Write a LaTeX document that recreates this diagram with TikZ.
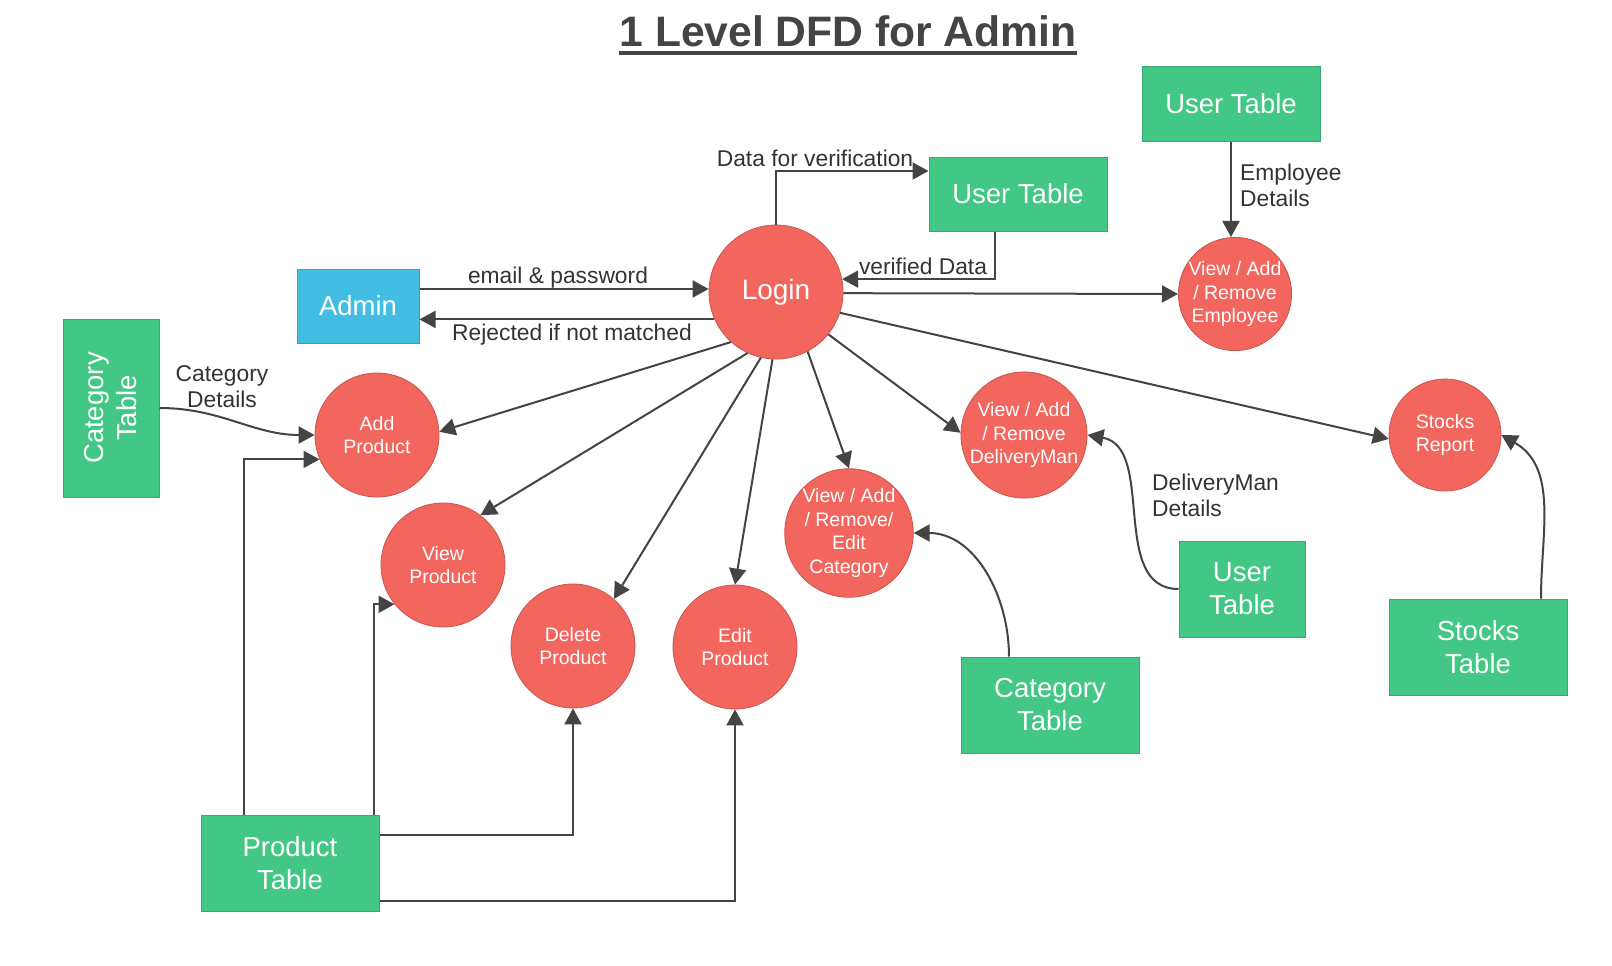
\documentclass[tikz,border=0pt]{standalone}
\usepackage{fontspec}
\setmainfont{Liberation Sans}
\usepackage{xcolor}
\definecolor{ink}{HTML}{333333}
\definecolor{titlegray}{HTML}{444444}
\definecolor{wire}{HTML}{444444}
\definecolor{procred}{HTML}{F2665E}
\definecolor{procedge}{HTML}{C8554E}
\definecolor{storegreen}{HTML}{42C884}
\definecolor{storeedge}{HTML}{38A96F}
\definecolor{adminblue}{HTML}{42BEE2}
\definecolor{adminedge}{HTML}{37A3C4}
\usepackage{tikz}
\usetikzlibrary{arrows.meta}

\begin{document}
\begin{tikzpicture}[
  x=1pt, y=1pt,
  proc/.style={circle, draw=procedge, line width=0.8pt, fill=procred, text=white, align=center,
               inner sep=0pt, minimum size=124pt, font=\fontsize{19.5}{23.5}\selectfont},
  store/.style={draw=storeedge, line width=1pt, fill=storegreen, text=white, align=center,
                inner sep=0pt, minimum width=178pt, minimum height=96pt, font=\fontsize{27.5}{33}\selectfont},
  flow/.style={-{Triangle[length=16pt,width=17pt]}, wire, line width=2pt},
  lbl/.style={text=ink, inner sep=0pt, font=\fontsize{22.8}{26}\selectfont}
]
  \path[fill=white, use as bounding box] (0,0) rectangle (1612,-966);

  \node[text=titlegray, inner sep=0pt, anchor=base, font=\fontsize{42.6}{50}\selectfont\bfseries] (title) at (848,-47) {1 Level DFD for Admin};
  \draw[titlegray, line width=3.5pt] ([yshift=-6pt]title.base west) -- ([yshift=-6pt]title.base east);

  % admin and login
  \node[store, fill=adminblue, draw=adminedge, minimum width=122pt, minimum height=74pt] (admin) at (358,-306) {Admin};
  \node[proc, minimum size=134pt, font=\fontsize{28}{33}\selectfont] (login) at (776,-292) {Login};

  % data stores
  \node[store, minimum height=74pt] (ut1) at (1018,-194) {User Table};
  \node[store, minimum height=74pt] (ut2) at (1231,-104) {User Table};
  \node[store, rotate=90] (catL) at (111,-408) {Category\\Table};
  \node[store] (ptab) at (290,-863) {Product\\Table};
  \node[store] (catB) at (1050,-705) {Category\\Table};
  \node[store, minimum width=126pt] (utD) at (1242,-589) {User\\Table};
  \node[store] (stab) at (1478,-647) {Stocks\\Table};

  % processes
  \node[proc, minimum size=112pt] (emp) at (1235,-294) {View / Add\\/ Remove\\Employee};
  \node[proc] (addp) at (377,-435) {Add\\Product};
  \node[proc] (viewp) at (443,-565) {View\\Product};
  \node[proc] (delp) at (573,-646) {Delete\\Product};
  \node[proc] (editp) at (735,-647) {Edit\\Product};
  \node[proc] (catC) at (849,-533) {View / Add\\/ Remove/\\Edit\\Category};
  \node[proc] (dm) at (1024,-435) {View / Add\\/ Remove\\DeliveryMan};
  \node[proc, minimum size=112pt] (stock) at (1445,-435) {Stocks\\Report};

  % login flows
  \draw[flow] ([yshift=17pt]admin.east) -- ([yshift=17pt]admin.east -| login.west);
  \draw[flow] (login.204) -- (login.204 -| admin.east);
  \draw[flow] (login.north) |- ([yshift=23pt]ut1.west);
  \draw[flow] ([xshift=-23pt]ut1.south) |- (login.11);
  \foreach \a/\t/\b in {359/emp/west, 228/addp/3, 245/viewp/53, 257/delp/49,
                        267/editp/north, 298/catC/north, 321/dm/178, 342/stock/184}
    \draw[flow] (login.\a) -- (\t.\b);

  % store flows (catL is rotated: its south is the right side)
  \draw[flow] (ut2.south) -- (ut2.south |- emp.north);
  \draw[flow] (catL.south) to[out=0, in=180] (addp.west);
  \draw[flow] ([xshift=-46pt]ptab.north) |- (addp.203);
  \draw[flow] ([xshift=-6pt]ptab.north east) |- (viewp.219);
  \draw[flow] ([yshift=28pt]ptab.east) -| (delp.south);
  \draw[flow] ([yshift=-38pt]ptab.east) -| (editp.south);
  \draw[flow] ([xshift=-41pt]catB.north) to[out=90, in=0] (catC.east);
  \draw[flow] (utD.west) to[out=180, in=-10] (dm.east);
  \draw[flow] ([xshift=63pt]stab.north) to[out=90, in=-30] (stock.east);

  % labels
  \node[lbl] (lEmail) at (558,-278) {email \& password};
  \node[lbl] (lReject) at (572,-335) {Rejected if not matched};
  \node[lbl] (lVerif) at (815,-158) {Data for verification};
  \node[lbl] (lVerified) at (923,-266) {verified Data};
  \node[lbl, align=left, anchor=west] (lEmp) at (1240,-185) {Employee\\Details};
  \node[lbl, align=center] (lCat) at (222,-387) {Category\\Details};
  \node[lbl, align=left, anchor=west] (lDm) at (1152,-495) {DeliveryMan\\Details};
\end{tikzpicture}
\end{document}
